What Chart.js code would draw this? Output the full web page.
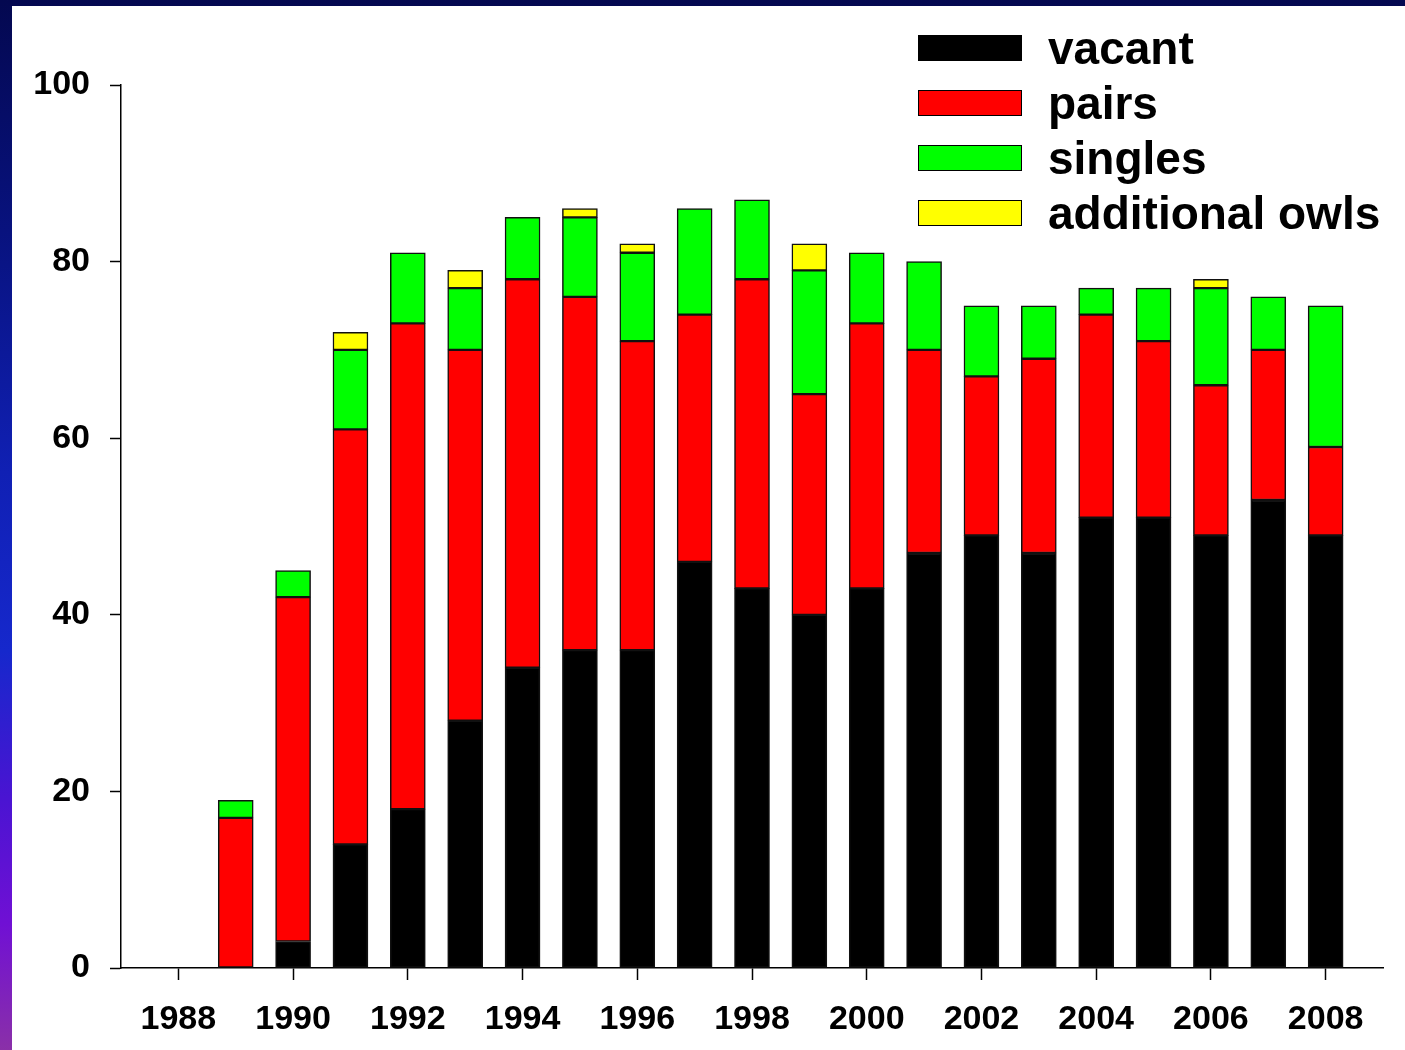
<!DOCTYPE html>
<html>
<head>
<meta charset="utf-8">
<script src="https://cdn.jsdelivr.net/npm/chart.js@4.4.1/dist/chart.umd.min.js"></script>
<style>
  html, body { margin: 0; padding: 0; }
  body {
    width: 1405px; height: 1050px; overflow: hidden; position: relative;
    background: linear-gradient(to bottom, #040850 0%, #08127e 22%, #1020b4 45%, #1628cc 62%, #4a14d2 76%, #7010d4 88%, #8a30a8 100%);
  }
  #panel { position: absolute; left: 12px; top: 6px; width: 1393px; height: 1044px; background: #fff; }
  #chart { position: absolute; left: 0; top: 0; }
  #legend { position: absolute; left: 906px; top: 14px; font: bold 46px "Liberation Sans", Arial, sans-serif; color: #000; }
  .row { display: flex; align-items: center; height: 55px; }
  .box { width: 104px; height: 26px; box-sizing: border-box; border: 1.5px solid #000; margin-right: 26px; }
</style>
</head>
<body>
<div id="panel">
  <canvas id="chart" width="1393" height="1044"></canvas>
  <div id="legend"></div>
</div>
<script>
// ---------- Data ----------

const years = [1988, 1989, 1990, 1991, 1992, 1993, 1994, 1995, 1996, 1997, 1998,
               1999, 2000, 2001, 2002, 2003, 2004, 2005, 2006, 2007, 2008];
const vacant     = [0, 0, 3, 14, 18, 28, 34, 36, 36, 46, 43, 40, 43, 47, 49, 47, 51, 51, 49, 53, 49];
const pairs      = [0, 17, 39, 47, 55, 42, 44, 40, 35, 28, 35, 25, 30, 23, 18, 22, 23, 20, 17, 17, 10];
const singles    = [0, 2, 3, 9, 8, 7, 7, 9, 10, 12, 9, 14, 8, 10, 8, 6, 3, 6, 11, 6, 16];
const additional = [0, 0, 0, 2, 0, 2, 0, 1, 1, 0, 0, 3, 0, 0, 0, 0, 0, 0, 1, 0, 0];
const tickYears  = [1988, 1990, 1992, 1994, 1996, 1998, 2000, 2002, 2004, 2006, 2008];
const yTicks     = [0, 20, 40, 60, 80, 100];

// ---------- Chart ----------

const series = [
  { label: 'vacant', values: vacant, color: '#000000' },
  { label: 'pairs', values: pairs, color: '#ff0000' },
  { label: 'singles', values: singles, color: '#00ff00' },
  { label: 'additional owls', values: additional, color: '#ffff00' }
];

const tickFont = { family: '"Liberation Sans", Arial, sans-serif', size: 34, weight: 'bold' };

const ctx = document.getElementById('chart').getContext('2d');
const chart = new Chart(ctx, {
  type: 'bar',
  data: {
    datasets: series.map((s) => ({
      label: s.label,
      data: years.map((yr, i) => ({ x: yr, y: s.values[i] })),
      backgroundColor: s.color,
      borderColor: '#111',
      borderWidth: 1.5,
      borderSkipped: false,
      barThickness: 35
    }))
  },
  options: {
    responsive: false,
    animation: false,
    devicePixelRatio: 1,
    layout: { padding: { top: 79, right: 22, left: 0, bottom: 0 } },
    plugins: { legend: { display: false }, tooltip: { enabled: false } },
    scales: {
      x: {
        type: 'linear',
        stacked: true,
        offset: false,
        min: 1987,
        max: 2009,
        afterBuildTicks: (axis) => { axis.ticks = tickYears.map((v) => ({ value: v })); },
        afterFit: (axis) => { axis.height = 82; },
        ticks: { autoSkip: false, maxRotation: 0, padding: 19, color: '#000', font: tickFont,
                 callback: (v) => String(v) },
        grid: { offset: false, drawOnChartArea: false, drawTicks: true, tickLength: 12,
                tickColor: '#000', tickWidth: 1.5 },
        border: { color: '#000', width: 1.5 }
      },
      y: {
        stacked: true,
        min: 0,
        max: 100,
        afterBuildTicks: (axis) => { axis.ticks = yTicks.map((v) => ({ value: v })); },
        afterFit: (axis) => { axis.width = 109; },
        ticks: { padding: 20, color: '#000', font: tickFont },
        grid: { drawOnChartArea: false, drawTicks: true, tickLength: 11,
                tickColor: '#000', tickWidth: 1.5 },
        border: { color: '#000', width: 1.5 }
      }
    }
  }
});

// ---------- Legend ----------

const legendEl = document.getElementById('legend');
chart.data.datasets.forEach((ds) => {
  const row = document.createElement('div');
  row.className = 'row';
  const box = document.createElement('span');
  box.className = 'box';
  box.style.background = ds.backgroundColor;
  const text = document.createElement('span');
  text.textContent = ds.label;
  row.appendChild(box);
  row.appendChild(text);
  legendEl.appendChild(row);
});
</script>
</body>
</html>
